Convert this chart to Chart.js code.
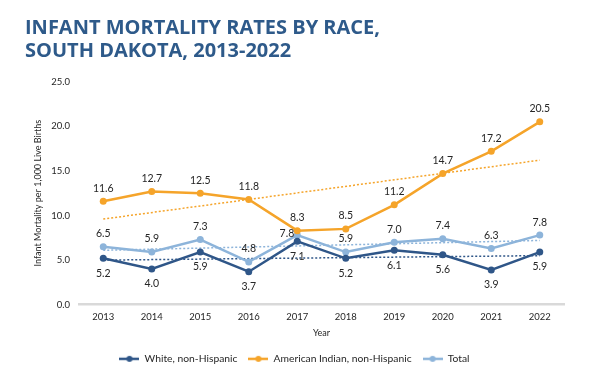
<!DOCTYPE html>
<html><head><meta charset="utf-8">
<script src="https://cdn.jsdelivr.net/npm/chart.js@4"></script>
<style>html,body{margin:0;padding:0;background:#fff;}#wrap{width:598px;height:378px;}</style>
</head><body><div id="wrap"><canvas id="c" width="598" height="378"></canvas></div>
<script>
const years = ['2013','2014','2015','2016','2017','2018','2019','2020','2021','2022'];
const white = [5.2,4.0,5.9,3.7,7.1,5.2,6.1,5.6,3.9,5.9];
const amInd = [11.6,12.7,12.5,11.8,8.3,8.5,11.2,14.7,17.2,20.5];
const total = [6.5,5.9,7.3,4.8,7.8,5.9,7.0,7.4,6.3,7.8];
// trendline endpoints (2013, 2022)
const whiteTrend = [5.0,5.5];
const amIndTrend = [9.6,16.2];
const totalTrend = [6.1,7.2];
const seriesNames = ['White, non-Hispanic','American Indian, non-Hispanic','Total'];
const titleLines = ['INFANT MORTALITY RATES BY RACE,','SOUTH DAKOTA, 2013-2022'];

const C_WHITE = '#2F5688', C_AI = '#F5A42A', C_TOT = '#8DB4DA';
const FONT = 'Lato';

function icon(color){
  const c = document.createElement('canvas');
  c.width = 20; c.height = 8;
  const g = c.getContext('2d');
  g.strokeStyle = color; g.lineWidth = 2.5;
  g.beginPath(); g.moveTo(0,4); g.lineTo(20,4); g.stroke();
  g.fillStyle = color; g.beginPath(); g.arc(10,4,3,0,Math.PI*2); g.fill();
  return c;
}
function trendData(t){ return [{x:years[0], y:t[0]},{x:years[years.length-1], y:t[1]}]; }

const labelPlugin = {
  id:'valLabels',
  afterDatasetsDraw(chart){
    const ctx = chart.ctx;
    ctx.save();
    ctx.font = '10.5px ' + FONT;
    ctx.fillStyle = '#262626';
    ctx.textBaseline = 'middle';
    chart.data.datasets.forEach((ds,i)=>{
      if(!ds.labelPlace) return;
      const meta = chart.getDatasetMeta(i);
      meta.data.forEach((pt,j)=>{
        const v = ds.data[j];
        const place = (ds.labelOverrides && ds.labelOverrides[j]) || ds.labelPlace;
        let x = pt.x, y = pt.y;
        ctx.textAlign = 'center';
        if(place==='above'){ y -= 13; }
        else if(place==='below'){ y += 15; }
        else if(place==='left'){ x -= 3; y -= 2; ctx.textAlign = 'right'; }
        ctx.fillText(v.toFixed(1), x, y);
      });
    });
    ctx.restore();
  }
};

const lineStyle = (color)=>({borderColor:color, backgroundColor:color, borderWidth:2.5, pointRadius:3.5, pointHoverRadius:3.5, pointBackgroundColor:color, pointBorderWidth:0, tension:0});
const trendStyle = (color)=>({borderColor:color, backgroundColor:color, borderWidth:1.5, borderDash:[2,2], pointRadius:0, fill:false});

new Chart(document.getElementById('c'), {
  type:'line',
  data:{
    labels: years,
    datasets:[
      Object.assign({label:seriesNames[0], data:white, labelPlace:'below'}, lineStyle(C_WHITE)),
      Object.assign({label:seriesNames[1], data:amInd, labelPlace:'above'}, lineStyle(C_AI)),
      Object.assign({label:seriesNames[2], data:total, labelPlace:'above', labelOverrides:{4:'left'}}, lineStyle(C_TOT)),
      Object.assign({label:'trend1', data:trendData(whiteTrend)}, trendStyle(C_WHITE)),
      Object.assign({label:'trend2', data:trendData(amIndTrend)}, trendStyle(C_AI)),
      Object.assign({label:'trend3', data:trendData(totalTrend)}, trendStyle(C_TOT))
    ]
  },
  options:{
    responsive:false,
    animation:false,
    devicePixelRatio:1,
    layout:{padding:{left:25, right:34, top:0, bottom:4}},
    plugins:{
      tooltip:{enabled:false},
      title:{display:true, text:titleLines, align:'start', color:'#2E5A8A',
        font:{family:'Open Sans', size:20, weight:'bold', lineHeight:1.15},
        padding:{top:17, bottom:18.7}},
      legend:{position:'bottom',
        labels:{usePointStyle:true, pointStyleWidth:20, padding:11, color:'#262626',
          font:{family:FONT, size:10.3},
          generateLabels:(chart)=>chart.data.datasets.slice(0,3).map((ds,i)=>({
            text:ds.label, datasetIndex:i, pointStyle:icon(ds.borderColor),
            fillStyle:ds.borderColor, strokeStyle:ds.borderColor, lineWidth:0, hidden:false, fontColor:'#262626'
          }))
        }
      }
    },
    scales:{
      x:{offset:true,
        grid:{display:false, drawTicks:false},
        border:{display:true, color:'#D9D9D9', width:2.5},
        ticks:{color:'#262626', font:{family:FONT, size:9.5}, padding:7},
        title:{display:true, text:'Year', color:'#262626', font:{family:FONT, size:9}, padding:{top:4,bottom:4}},
        afterFit(s){ s.height = 38; }
      },
      y:{min:0, max:25,
        grid:{display:false, drawTicks:false},
        border:{display:false},
        ticks:{stepSize:5, color:'#262626', font:{family:FONT, size:9.5}, padding:9, callback:(v)=>Number(v).toFixed(1)},
        title:{display:true, text:'Infant Mortality per 1,000 Live Births', color:'#262626', font:{family:FONT, size:9}, padding:{top:8,bottom:0}},
        afterFit(s){ s.width = 54; }
      }
    }
  },
  plugins:[labelPlugin]
});
</script></body></html>
